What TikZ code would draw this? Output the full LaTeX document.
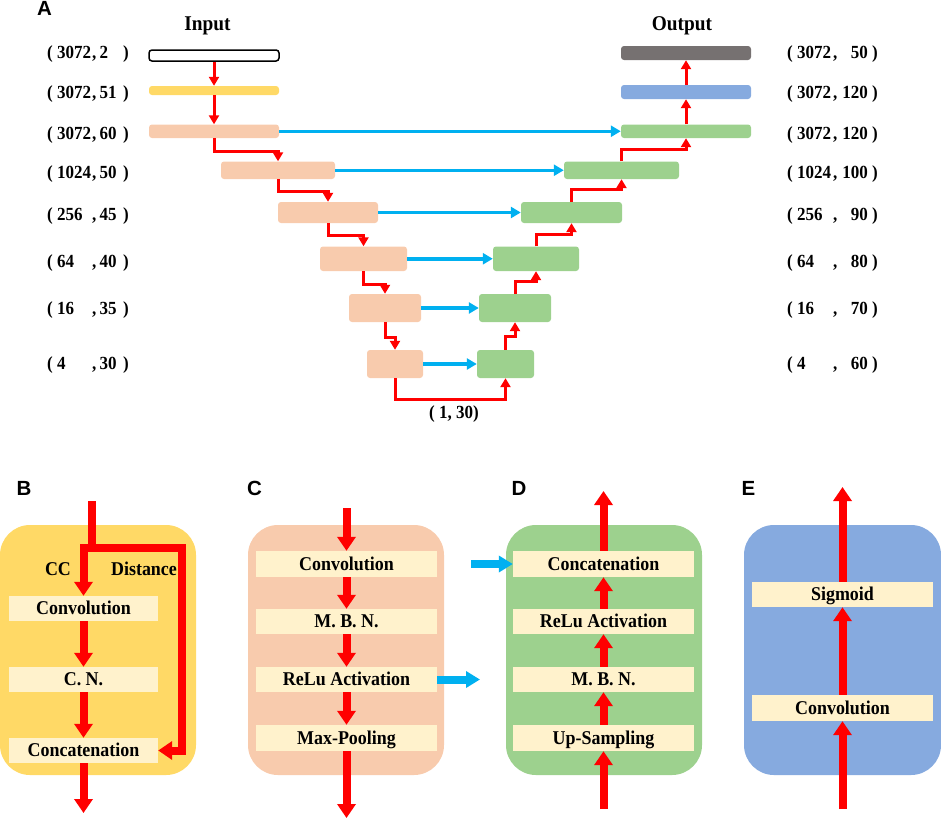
\documentclass[tikz,border=0pt]{standalone}
\usepackage{fontspec}
\setmainfont{Liberation Serif}[FakeStretch=0.92]
\newfontfamily\lsans{Liberation Sans}
\usetikzlibrary{arrows.meta,fit}
\definecolor{cYel}{HTML}{FFD966}
\definecolor{cPeach}{HTML}{F8CBAD}
\definecolor{cGreen}{HTML}{9DD18E}
\definecolor{cBlue}{HTML}{86AADF}
\definecolor{cGrey}{HTML}{767171}
\definecolor{cCream}{HTML}{FFF2CC}
\definecolor{cCyan}{HTML}{00B0F0}
\definecolor{cRed}{HTML}{FF0000}
\tikzset{
  abox/.style={inner sep=0pt, rounded corners=3pt},
  panel/.style={inner sep=0pt, rounded corners=30pt},
  ibox/.style={inner sep=0pt, fill=cCream},
  lbl/.style={font=\fontsize{18.5}{20}\selectfont\bfseries, inner sep=0pt},
  hdr/.style={font=\fontsize{21}{23}\selectfont\bfseries, inner sep=0pt},
  ttl/.style={font=\lsans\fontsize{20.5}{22}\selectfont\bfseries, inner sep=0pt},
  btxt/.style={font=\fontsize{19.5}{21}\selectfont\bfseries, inner sep=0pt, text height=12.9pt, text depth=0pt},
  redA/.style={draw=cRed, line width=3pt, miter limit=10, -{Triangle[width=10pt,length=9pt]}},
  bluA/.style={draw=cCyan, line width=3.5pt, -{Triangle[width=11pt,length=10pt]}},
  redL/.style={draw=cRed, line width=8pt},
  redB/.style={draw=cRed, line width=8pt, -{Triangle[width=18pt,length=14pt]}},
  bluB/.style={draw=cCyan, line width=8pt, -{Triangle[width=16pt,length=14pt]}},
}
\newcommand\rowLab[4]{%
  \node[lbl,anchor=base west] (#1a) at (47,#2) {(};
  \node[lbl,anchor=base west] (#1b) at (57,#2) {#3};
  \node[lbl,anchor=base west] (#1c) at (92,#2) {,};
  \node[lbl,anchor=base west] (#1d) at (99.5,#2) {#4};
  \node[lbl,anchor=base east] (#1e) at (129,#2) {)};}
\newcommand\rowRab[4]{%
  \node[lbl,anchor=base west] (#1a) at (787,#2) {(};
  \node[lbl,anchor=base west] (#1b) at (797,#2) {#3};
  \node[lbl,anchor=base west] (#1c) at (833,#2) {,};
  \node[lbl,anchor=base east] (#1d) at (868,#2) {#4};
  \node[lbl,anchor=base east] (#1e) at (878,#2) {)};}
\begin{document}
\begin{tikzpicture}[x=1pt,y=-1pt]
\useasboundingbox (0,0) rectangle (941,819);

% ---------------- Panel A ----------------
\node[ttl, anchor=base] (labA) at (44.5,16) {A};
\node[hdr, anchor=base] (inT) at (207.5,30) {Input};
\node[hdr, anchor=base] (outT) at (682,30) {Output};

\node[abox, fit={(149,50) (279,61)}, fill=white, draw=black, line width=1.5pt] (in0) {};
\node[abox, fit={(149,86) (279,95)}, fill=cYel] (y1) {};
\node[abox, fit={(149,124.5) (279,138)}, fill=cPeach] (e2) {};
\node[abox, fit={(221,161.5) (335,179)}, fill=cPeach] (e3) {};
\node[abox, fit={(278,202) (378,223)}, fill=cPeach] (e4) {};
\node[abox, fit={(320,246.5) (407,271)}, fill=cPeach] (e5) {};
\node[abox, fit={(349,294) (421,322)}, fill=cPeach] (e6) {};
\node[abox, fit={(367,350) (423,378)}, fill=cPeach] (e7) {};

\node[abox, fit={(621,46) (751,60)}, fill=cGrey] (out0) {};
\node[abox, fit={(621,85) (751,99)}, fill=cBlue] (b1) {};
\node[abox, fit={(621,124.5) (751,138)}, fill=cGreen] (d2) {};
\node[abox, fit={(564,161.5) (679,179)}, fill=cGreen] (d3) {};
\node[abox, fit={(521,202) (622,223)}, fill=cGreen] (d4) {};
\node[abox, fit={(493,246.5) (579,271)}, fill=cGreen] (d5) {};
\node[abox, fit={(479,294) (551,322)}, fill=cGreen] (d6) {};
\node[abox, fit={(477,350) (534,378)}, fill=cGreen] (d7) {};

\rowLab{L0}{58.3}{3072}{2}
\rowLab{L1}{98.3}{3072}{51}
\rowLab{L2}{139.3}{3072}{60}
\rowLab{L3}{178.3}{1024}{50}
\rowLab{L4}{220.3}{256}{45}
\rowLab{L5}{267.3}{64}{40}
\rowLab{L6}{314.3}{16}{35}
\rowLab{L7}{369.3}{4}{30}

\rowRab{R0}{58.3}{3072}{50}
\rowRab{R1}{98.3}{3072}{120}
\rowRab{R2}{139.3}{3072}{120}
\rowRab{R3}{178.3}{1024}{100}
\rowRab{R4}{220.3}{256}{90}
\rowRab{R5}{267.3}{64}{80}
\rowRab{R6}{314.3}{16}{70}
\rowRab{R7}{369.3}{4}{60}

\node[lbl, anchor=base] (bot) at (454,418) {( 1, 30)};

% skip connections
\foreach \i in {2,...,7} \draw[bluA] (e\i.east) -- (d\i.west);

% encoder path
\draw[redA] (in0.south) -- (y1.north);
\draw[redA] (y1.south) -- (e2.north);
\draw[redA] (e2.south) -- ++(0,13) -| (e3.north);
\draw[redA] (e3.south) -- ++(0,12) -| (e4.north);
\draw[redA] (e4.south) -- ++(0,12) -| (e5.north);
\draw[redA] (e5.south) -- ++(0,13) -| (e6.north);
\draw[redA] (e6.south) -- ++(0,15) -| (e7.north);
\draw[redA] (e7.south) -- ++(0,21) -| (d7.south);
% decoder path
\draw[redA] (d7.north) -- ++(0,-13) -| (d6.south);
\draw[redA] (d6.north) -- ++(0,-12) -| (d5.south);
\draw[redA] (d5.north) -- ++(0,-12) -| (d4.south);
\draw[redA] (d4.north) -- ++(0,-12) -| (d3.south);
\draw[redA] (d3.north) -- ++(0,-11.5) -| (d2.south);
\draw[redA] (d2.north) -- (b1.south);
\draw[redA] (b1.north) -- (out0.south);

% ---------------- Panel B ----------------
\node[ttl, anchor=base] (labB) at (24,495) {B};
\node[panel, fit={(0,525) (196,775)}, fill=cYel] (pB) {};
\node[ibox, fit={(9,596) (158,621)}] (cB1) {};
\node[ibox, fit={(9,667) (158,692)}] (cB2) {};
\node[ibox, fit={(9,738) (158,763)}] (cB3) {};
\node[btxt] (tB1) at (cB1.center) {Convolution};
\node[btxt] (tB2) at (cB2.center) {C. N.};
\node[btxt] (tB3) at (cB3.center) {Concatenation};
\node[btxt, anchor=base] (tCC) at (58,575.5) {CC};
\node[btxt, anchor=base] (tDist) at (144,575.5) {Distance};
\coordinate (sB) at (92,501);
\coordinate (jB) at (92,548);
\coordinate (jL) at (83.5,544);
\coordinate (jL2) at (83.5,548);
\coordinate (jR) at (182,548);
\coordinate (eB) at (83.5,813);
\draw[redL] (sB) -- (jB);
\draw[redB] (jL) -- (cB1.north);
\draw[redB] (jL2) -- (jR) |- (cB3.east);
\draw[redB] (cB1.south) -- (cB2.north);
\draw[redB] (cB2.south) -- (cB3.north);
\draw[redB] (cB3.south) -- (eB);

% ---------------- Panel C ----------------
\node[ttl, anchor=base] (labC) at (254.5,495) {C};
\node[panel, fit={(248,525) (444,775)}, fill=cPeach] (pC) {};
\node[ibox, fit={(256,551) (437,577)}] (cC1) {};
\node[ibox, fit={(256,609) (437,634)}] (cC2) {};
\node[ibox, fit={(256,667) (437,692)}] (cC3) {};
\node[ibox, fit={(256,725) (437,751)}] (cC4) {};
\node[btxt] (tC1) at (cC1.center) {Convolution};
\node[btxt] (tC2) at (cC2.center) {M. B. N.};
\node[btxt] (tC3) at (cC3.center) {ReLu Activation};
\node[btxt] (tC4) at (cC4.center) {Max-Pooling};
\coordinate (sC) at (346.5,508);
\coordinate (eC) at (346.5,818);
\coordinate (oC) at (480,679.5);
\draw[redB] (sC) -- (cC1.north);
\draw[redB] (cC1.south) -- (cC2.north);
\draw[redB] (cC2.south) -- (cC3.north);
\draw[redB] (cC3.south) -- (cC4.north);
\draw[redB] (cC4.south) -- (eC);
\draw[bluB] (cC3.east) -- (oC);

% ---------------- Panel D ----------------
\node[ttl, anchor=base] (labD) at (519,495) {D};
\node[panel, fit={(506,525) (702,775)}, fill=cGreen] (pD) {};
\node[ibox, fit={(513,551) (694,577)}] (cD1) {};
\node[ibox, fit={(513,609) (694,634)}] (cD2) {};
\node[ibox, fit={(513,667) (694,692)}] (cD3) {};
\node[ibox, fit={(513,725) (694,751)}] (cD4) {};
\node[btxt] (tD1) at (cD1.center) {Concatenation};
\node[btxt] (tD2) at (cD2.center) {ReLu Activation};
\node[btxt] (tD3) at (cD3.center) {M. B. N.};
\node[btxt] (tD4) at (cD4.center) {Up-Sampling};
\coordinate (sD) at (603.5,809);
\coordinate (eD) at (603.5,491);
\coordinate (iD) at (471,564);
\draw[redB] (sD) -- (cD4.south);
\draw[redB] (cD4.north) -- (cD3.south);
\draw[redB] (cD3.north) -- (cD2.south);
\draw[redB] (cD2.north) -- (cD1.south);
\draw[redB] (cD1.north) -- (eD);
\draw[bluB] (iD) -- (cD1.west);

% ---------------- Panel E ----------------
\node[ttl, anchor=base] (labE) at (748.5,495) {E};
\node[panel, fit={(744,525) (941,775)}, fill=cBlue] (pE) {};
\node[ibox, fit={(752,582) (933,607)}] (cE1) {};
\node[ibox, fit={(752,695) (933,721)}] (cE2) {};
\node[btxt] (tE1) at (cE1.center) {Sigmoid};
\node[btxt] (tE2) at (cE2.center) {Convolution};
\coordinate (sE) at (842.5,809);
\coordinate (eE) at (842.5,487);
\draw[redB] (sE) -- (cE2.south);
\draw[redB] (cE2.north) -- (cE1.south);
\draw[redB] (cE1.north) -- (eE);
\end{tikzpicture}
\end{document}
